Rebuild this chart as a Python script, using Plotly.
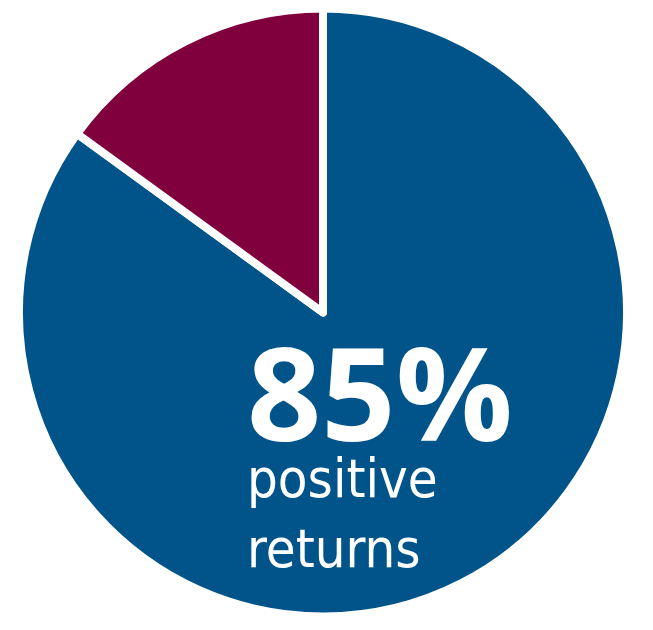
import plotly.graph_objects as go

labels = ["Positive returns", "Negative returns"]
values = [85, 15]
colors = ["#00548A", "#7F003C"]
big_label = "85%"
small_lines = ["positive", "returns"]

W, H = 653, 630
cx, cy, r = 323, 312.5, 304

fig = go.Figure(go.Pie(
    labels=labels, values=values, sort=False, direction="clockwise", rotation=0,
    marker=dict(colors=colors, line=dict(color="white", width=8)),
    textinfo="none", hoverinfo="label+percent", showlegend=False,
    domain=dict(x=[(cx - r) / W, (cx + r) / W], y=[1 - (cy + r) / H, 1 - (cy - r) / H]),
))

fig.add_annotation(text=f"<b>{big_label}</b>", x=245 / W, y=1 - 390 / H, xref="paper", yref="paper",
                   xanchor="left", yanchor="middle", showarrow=False,
                   font=dict(family="Open Sans", size=130, color="white"))
fig.add_annotation(text="<br>".join(small_lines), x=245 / W, y=1 - 513 / H, xref="paper", yref="paper",
                   xanchor="left", yanchor="middle", align="left", showarrow=False,
                   font=dict(family="Liberation Sans Narrow, DejaVu Sans Condensed, Roboto", size=54, color="white"))

fig.update_layout(width=W, height=H, margin=dict(l=0, r=0, t=0, b=0),
                  paper_bgcolor="white", plot_bgcolor="white")
fig.write_html("out.html")
